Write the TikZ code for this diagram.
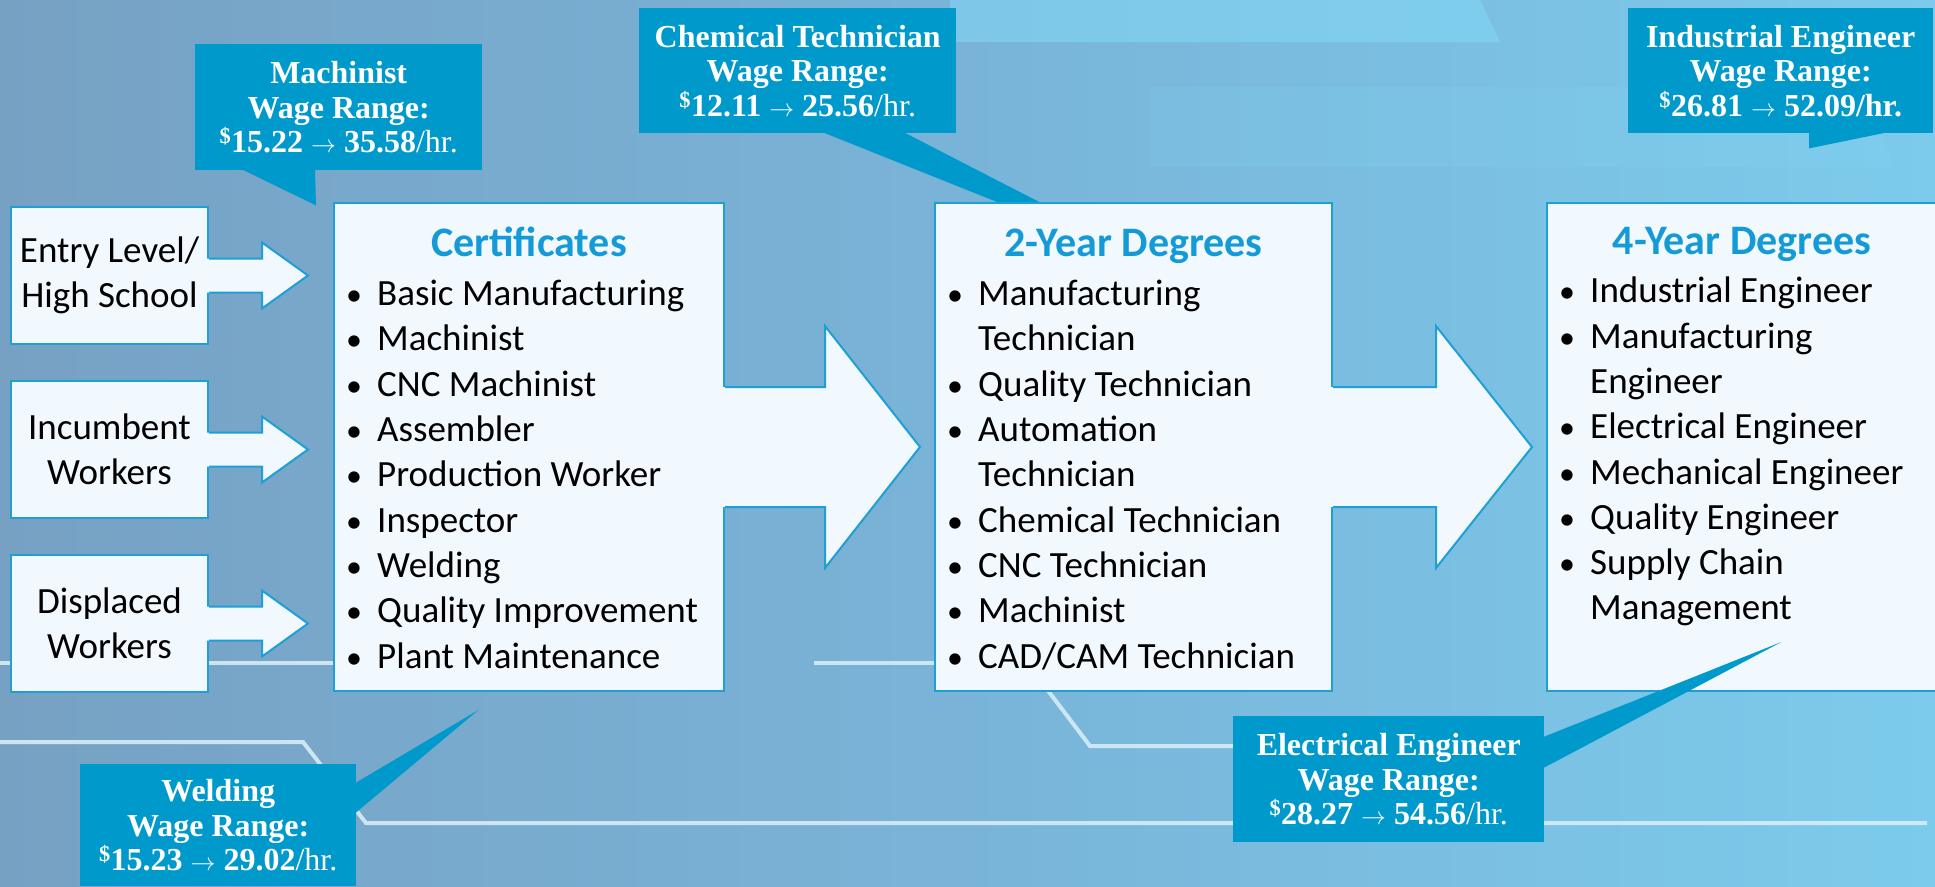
\documentclass[tikz,border=0pt]{standalone}
\usepackage{fontspec}
\setmainfont{Carlito}
\newfontfamily\wagefont{Liberation Serif}
\usepackage{tikz}
\usetikzlibrary{calc}

\definecolor{bgleft}{HTML}{77A1C3}
\definecolor{bgmid}{HTML}{79B4D8}
\definecolor{bgright}{HTML}{7CCBEC}
\definecolor{topglow}{HTML}{86DFFD}
\definecolor{boxfill}{HTML}{F1F8FE}
\definecolor{boxline}{HTML}{1E9FD6}
\definecolor{headblue}{HTML}{149BD7}
\definecolor{wageblue}{HTML}{0099CC}
\definecolor{wireline}{HTML}{DCEFF8}

\newcommand{\listdot}{\makebox[31pt][l]{\fontsize{32}{32}\selectfont•}}
\newcommand{\listgap}{\hspace*{31pt}}
\newcommand{\wageto}{{\fontsize{29}{29}\selectfont$\rightarrow$}}

\begin{document}
\begin{tikzpicture}[x=1pt,y=-1pt,
    stepbox/.style={draw=boxline,line width=2pt,fill=boxfill,anchor=north west,inner sep=0pt,
        align=center,font=\fontsize{37}{45}\selectfont},
    headtext/.style={anchor=base,text=headblue,font=\fontsize{42}{50}\selectfont\bfseries},
    listtext/.style={anchor=north west,align=left,inner sep=0pt,font=\fontsize{37}{45.3}\selectfont},
    wagebox/.style={fill=wageblue,anchor=north west,inner sep=0pt,text=white,align=center,
        font=\wagefont\bfseries\fontsize{32}{34.5}\selectfont},
    blockfill/.style={fill=boxfill},
    blockedge/.style={draw=boxline,line width=2pt},
    wire/.style={draw=wireline,line width=4pt,opacity=.85}]

    % 背景
    \useasboundingbox (0,0) rectangle (1935,886);
    \shade[left color=bgleft,right color=bgright,middle color=bgmid] (0,0) rectangle (1935,886);
    \fill[topglow,opacity=.45] (950,0) -- (1480,0) -- (1500,42) -- (950,42) -- cycle;
    \fill[topglow,opacity=.12] (1150,87) -- (1860,87) -- (1895,167) -- (1150,167) -- cycle;

    % 线路
    \path[wire] (0,663) -- (333,663);
    \path[wire] (814,663) -- (934,663);
    \path[wire] (0,742) -- (303,742) -- (366,823) -- (1927,823);
    \path[wire] (1046,688) -- (1090,746) -- (1581,746);

    % 化学技术员 (在方框下面)
    \node[wagebox,minimum width=317pt,minimum height=125pt] (chemical) at (639,8)
        {Chemical Technician\\Wage Range:\\\textsuperscript{\$}12.11 \wageto{} 25.56\mdseries/hr.};
    \fill[wageblue] ($(chemical.south west)+(184,-1)$) -- ($(chemical.south west)+(265,-1)$)
        -- ($(chemical.south west)+(401,69)$) -- ($(chemical.south west)+(359,69)$) -- cycle;

    % 入口
    \node[stepbox,minimum width=197pt,minimum height=137pt] (entry) at (10,206) {Entry Level/\\High School};
    \node[stepbox,minimum width=197pt,minimum height=137pt] (incumbent) at (10,380) {Incumbent\\Workers};
    \node[stepbox,minimum width=197pt,minimum height=137pt] (displaced) at (10,554) {Displaced\\Workers};

    % 三个方框
    \node[stepbox,minimum width=390pt,minimum height=488pt] (cert) at (333,202) {};
    \node[stepbox,minimum width=397pt,minimum height=488pt] (two) at (934,202) {};
    \node[stepbox,minimum width=400pt,minimum height=488pt] (four) at (1546,202) {};

    % 小箭头
    \begin{scope}[shift={(entry.east)}]
        \fill[blockfill] (-3,-17) -- (53,-17) -- (53,-33) -- (99,0) -- (53,33) -- (53,17) -- (-3,17) -- cycle;
        \draw[blockedge] (0,-17) -- (53,-17) -- (53,-33) -- (99,0) -- (53,33) -- (53,17) -- (0,17);
    \end{scope}
    \begin{scope}[shift={(incumbent.east)}]
        \fill[blockfill] (-3,-17) -- (53,-17) -- (53,-33) -- (99,0) -- (53,33) -- (53,17) -- (-3,17) -- cycle;
        \draw[blockedge] (0,-17) -- (53,-17) -- (53,-33) -- (99,0) -- (53,33) -- (53,17) -- (0,17);
    \end{scope}
    \begin{scope}[shift={(displaced.east)}]
        \fill[blockfill] (-3,-17) -- (53,-17) -- (53,-33) -- (99,0) -- (53,33) -- (53,17) -- (-3,17) -- cycle;
        \draw[blockedge] (0,-17) -- (53,-17) -- (53,-33) -- (99,0) -- (53,33) -- (53,17) -- (0,17);
    \end{scope}

    % 大箭头
    \begin{scope}[shift={(cert.east)}]
        \fill[blockfill] (-3,-60) -- (100,-60) -- (100,-121) -- (195,0) -- (100,121) -- (100,60) -- (-3,60) -- cycle;
        \draw[blockedge] (0,-60) -- (100,-60) -- (100,-121) -- (195,0) -- (100,121) -- (100,60) -- (0,60);
    \end{scope}
    \begin{scope}[shift={(two.east)}]
        \fill[blockfill] (-3,-60) -- (103,-60) -- (103,-121) -- (199,0) -- (103,121) -- (103,60) -- (-3,60) -- cycle;
        \draw[blockedge] (0,-60) -- (103,-60) -- (103,-121) -- (199,0) -- (103,121) -- (103,60) -- (0,60);
    \end{scope}

    % 标题和列表
    \node[headtext] (certhead) at ($(cert.north)+(0,54)$) {Certificates};
    \node[headtext] (twohead) at ($(two.north)+(0,54)$) {2-Year Degrees};
    \node[headtext] (fourhead) at ($(four.north)+(-5,52)$) {4-Year Degrees};

    \node[listtext] (certlist) at ($(cert.north west)+(13,78)$) {%
        \listdot Basic Manufacturing\\
        \listdot Machinist\\
        \listdot CNC Machinist\\
        \listdot Assembler\\
        \listdot Production Worker\\
        \listdot Inspector\\
        \listdot Welding\\
        \listdot Quality Improvement\\
        \listdot Plant Maintenance};
    \node[listtext] (twolist) at ($(two.north west)+(13,78)$) {%
        \listdot Manufacturing\\
        \listgap Technician\\
        \listdot Quality Technician\\
        \listdot Automation\\
        \listgap Technician\\
        \listdot Chemical Technician\\
        \listdot CNC Technician\\
        \listdot Machinist\\
        \listdot CAD/CAM Technician};
    \node[listtext] (fourlist) at ($(four.north west)+(13,75)$) {%
        \listdot Industrial Engineer\\
        \listdot Manufacturing\\
        \listgap Engineer\\
        \listdot Electrical Engineer\\
        \listdot Mechanical Engineer\\
        \listdot Quality Engineer\\
        \listdot Supply Chain\\
        \listgap Management};

    % 工资标注
    \node[wagebox,minimum width=287pt,minimum height=126pt] (machinist) at (195,44)
        {Machinist\\Wage Range:\\\textsuperscript{\$}15.22 \wageto{} 35.58\mdseries/hr.};
    \fill[wageblue] ($(machinist.south west)+(47,-1)$) -- ($(machinist.south west)+(120,-1)$)
        -- ($(machinist.south west)+(121,35)$) -- cycle;

    \node[wagebox,minimum width=305pt,minimum height=125pt] (industrial) at (1628,8)
        {Industrial Engineer\\Wage Range:\\\textsuperscript{\$}26.81 \wageto{} 52.09/hr.};
    \fill[wageblue] ($(industrial.south west)+(181,-1)$) -- ($(industrial.south west)+(181,15)$)
        -- ($(industrial.south west)+(259,-1)$) -- cycle;

    \node[wagebox,minimum width=276pt,minimum height=122pt] (welding) at (80,764)
        {Welding\\Wage Range:\\\textsuperscript{\$}15.23 \wageto{} 29.02\mdseries/hr.};
    \fill[wageblue] ($(welding.north east)+(-1,19)$) -- ($(welding.north east)+(122,-54)$)
        -- ($(welding.north east)+(-1,49)$) -- cycle;

    \node[wagebox,minimum width=311pt,minimum height=126pt] (electrical) at (1233,716)
        {Electrical Engineer\\Wage Range:\\\textsuperscript{\$}28.27 \wageto{} 54.56\mdseries/hr.};
    \fill[wageblue] ($(electrical.north east)+(-1,21)$) -- ($(electrical.north east)+(237,-74)$)
        -- ($(electrical.north east)+(-1,52)$) -- cycle;
\end{tikzpicture}
\end{document}
